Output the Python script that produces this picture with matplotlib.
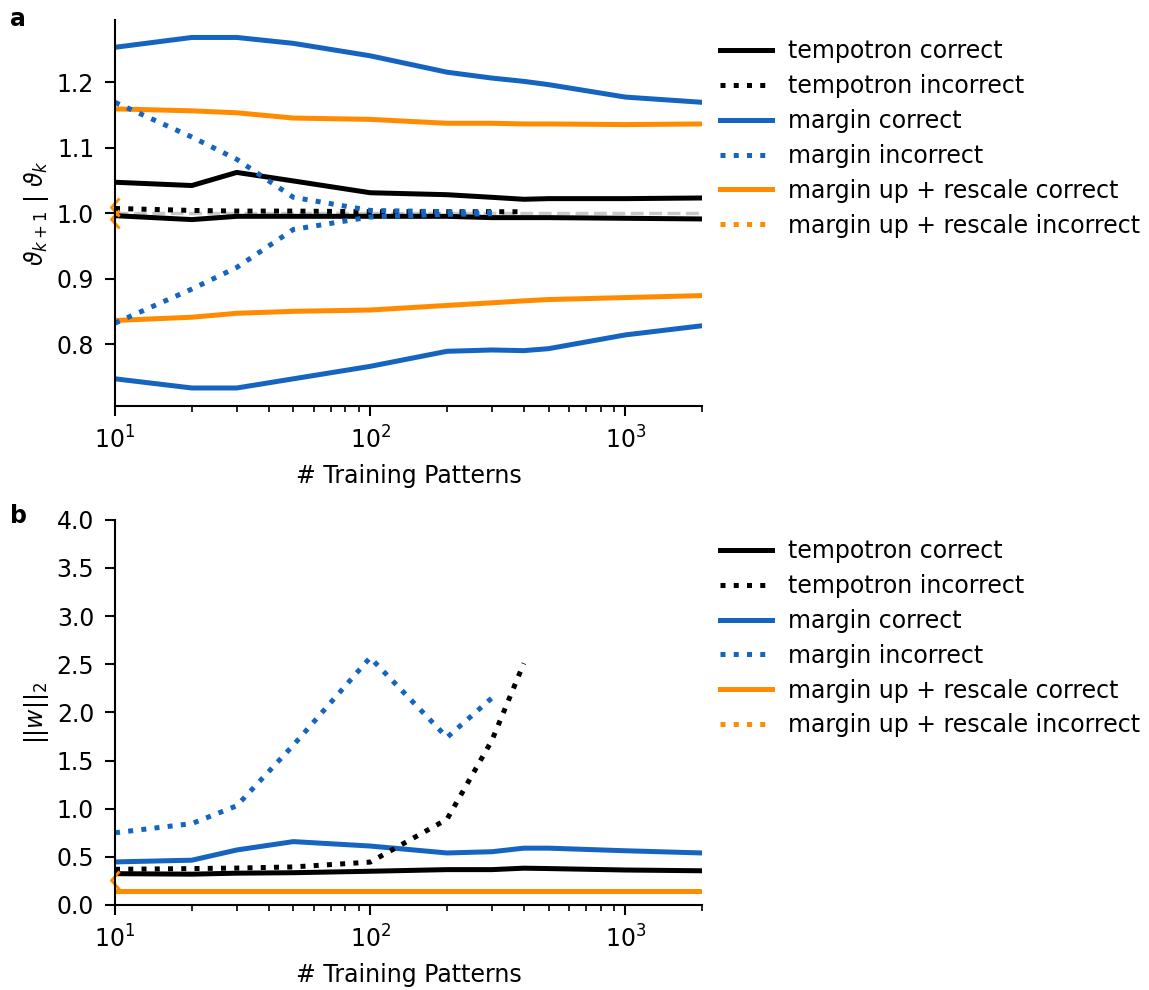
import numpy as np
import matplotlib
matplotlib.use('Agg')
import matplotlib.pyplot as plt
from matplotlib.path import Path

# number of training patterns
n_patterns = [10, 20, 30, 50, 100, 200, 300, 400, 500, 1000, 2000]
n_patterns_incorrect = [10, 20, 30, 50, 100, 200, 300, 400]

# threshold ratio theta_{k+1} / theta_k, upper and lower bounds
tempotron_correct_hi = [1.047, 1.042, 1.062, 1.049, 1.031, 1.028, 1.024, 1.021, 1.022, 1.022, 1.023]
tempotron_correct_lo = [0.996, 0.990, 0.995, 0.995, 0.995, 0.995, 0.993, 0.993, 0.993, 0.992, 0.991]
tempotron_incorrect_hi = [1.007, 1.004, 1.003, 1.003, 1.002, 1.002, 1.002, 1.002]
margin_correct_hi = [1.253, 1.268, 1.268, 1.259, 1.240, 1.215, 1.206, 1.201, 1.196, 1.177, 1.169]
margin_correct_lo = [0.747, 0.733, 0.733, 0.747, 0.766, 0.789, 0.791, 0.790, 0.793, 0.814, 0.828]
margin_incorrect_hi = [1.169, 1.116, 1.082, 1.024, 1.004, 1.002, 1.001]
margin_incorrect_lo = [0.832, 0.884, 0.917, 0.975, 0.994, 0.998, 0.999]
rescale_correct_hi = [1.159, 1.156, 1.153, 1.145, 1.143, 1.137, 1.137, 1.136, 1.136, 1.135, 1.136]
rescale_correct_lo = [0.836, 0.841, 0.847, 0.850, 0.852, 0.859, 0.863, 0.866, 0.868, 0.871, 0.874]
rescale_incorrect_theta = [1.009, 0.991]

# weight norm ||w||_2
tempotron_correct_w = [0.325, 0.32, 0.33, 0.335, 0.35, 0.367, 0.367, 0.382, 0.378, 0.363, 0.355]
tempotron_incorrect_w = [0.37, 0.378, 0.383, 0.395, 0.445, 0.89, 1.71, 2.51]
margin_correct_w = [0.447, 0.465, 0.571, 0.658, 0.612, 0.540, 0.553, 0.590, 0.590, 0.563, 0.540]
margin_incorrect_w = [0.75, 0.845, 1.03, 1.66, 2.57, 1.74, 2.15]
rescale_correct_w = [0.145] * len(n_patterns)
rescale_incorrect_w = [0.26]

labels = ['tempotron correct', 'tempotron incorrect', 'margin correct',
          'margin incorrect', 'margin up + rescale correct',
          'margin up + rescale incorrect']

c_temp = 'black'
c_margin = '#1565c0'
c_rescale = '#ff8c00'
lw = 3.6
fs = 17

chevron = Path([(0.45, 1.0), (-0.45, 0.0), (0.45, -1.0)],
               [Path.MOVETO, Path.LINETO, Path.LINETO])

plt.rcParams['font.size'] = fs
plt.rcParams['axes.linewidth'] = 1.5

fig = plt.figure(figsize=(11.49, 9.9), dpi=100)
ax_a = fig.add_axes([0.1001, 0.5899, 0.511, 0.390])
ax_b = fig.add_axes([0.1001, 0.0859, 0.511, 0.389])


def legend_handles(ax):
    hs = []
    for c in [c_temp, c_margin, c_rescale]:
        hs.append(ax.plot([], [], color=c, lw=lw, ls='-')[0])
        hs.append(ax.plot([], [], color=c, lw=lw, ls=':')[0])
    return hs


def style(ax):
    ax.set_xscale('log')
    ax.set_xlim(10, 2000)
    ax.spines['top'].set_visible(False)
    ax.spines['right'].set_visible(False)
    ax.tick_params(which='major', length=7, width=1.5, labelsize=fs, pad=8)
    ax.tick_params(which='minor', length=4, width=1.2)
    ax.set_xlabel('# Training Patterns', fontsize=fs, labelpad=7)
    hs = legend_handles(ax)
    ax.legend(hs, labels, loc='upper left', bbox_to_anchor=(1.031, 0.95),
              frameon=False, borderaxespad=0, borderpad=0, fontsize=fs,
              handlelength=2.2, handletextpad=0.68, labelspacing=0.46)


# panel a: threshold ratio
ax = ax_a
ax.axhline(1.0, color='#c8c8c8', lw=2.5, ls='--', zorder=1)
ax.plot(n_patterns, tempotron_correct_hi, color=c_temp, lw=lw)
ax.plot(n_patterns, tempotron_correct_lo, color=c_temp, lw=lw)
ax.plot(n_patterns, margin_correct_hi, color=c_margin, lw=lw)
ax.plot(n_patterns, margin_correct_lo, color=c_margin, lw=lw)
ax.plot(n_patterns, rescale_correct_hi, color=c_rescale, lw=lw)
ax.plot(n_patterns, rescale_correct_lo, color=c_rescale, lw=lw)
ax.plot(n_patterns_incorrect, tempotron_incorrect_hi, color=c_temp, lw=lw, ls=':')
ax.plot(n_patterns_incorrect[:7], margin_incorrect_hi, color=c_margin, lw=lw, ls=':')
ax.plot(n_patterns_incorrect[:7], margin_incorrect_lo, color=c_margin, lw=lw, ls=':')
ax.plot([10, 10], rescale_incorrect_theta, ls='none', marker=chevron,
        ms=13, mfc='none', mec=c_rescale, mew=2, clip_on=False)
ax.set_ylim(0.7055, 1.2948)
ax.set_yticks([0.8, 0.9, 1.0, 1.1, 1.2])
ax.set_ylabel(r'$\vartheta_{k+1}\ |\ \vartheta_k$', fontsize=fs)
style(ax)

# panel b: weight norm
ax = ax_b
ax.plot(n_patterns, tempotron_correct_w, color=c_temp, lw=lw)
ax.plot(n_patterns, margin_correct_w, color=c_margin, lw=lw)
ax.plot(n_patterns, rescale_correct_w, color=c_rescale, lw=lw)
ax.plot(n_patterns_incorrect, tempotron_incorrect_w, color=c_temp, lw=lw, ls=':')
ax.plot(n_patterns_incorrect[:7], margin_incorrect_w, color=c_margin, lw=lw, ls=':')
ax.plot([10], rescale_incorrect_w, ls='none', marker=chevron,
        ms=13, mfc='none', mec=c_rescale, mew=2, clip_on=False)
ax.set_ylim(0, 4)
ax.set_yticks(np.arange(0, 4.01, 0.5))
ax.set_ylabel(r'$||w||_2$', fontsize=fs)
style(ax)

fig.text(0.009, 0.993, 'a', fontsize=fs, fontweight='bold', va='top')
fig.text(0.009, 0.491, 'b', fontsize=fs, fontweight='bold', va='top')

fig.savefig('out.png', dpi=100)
